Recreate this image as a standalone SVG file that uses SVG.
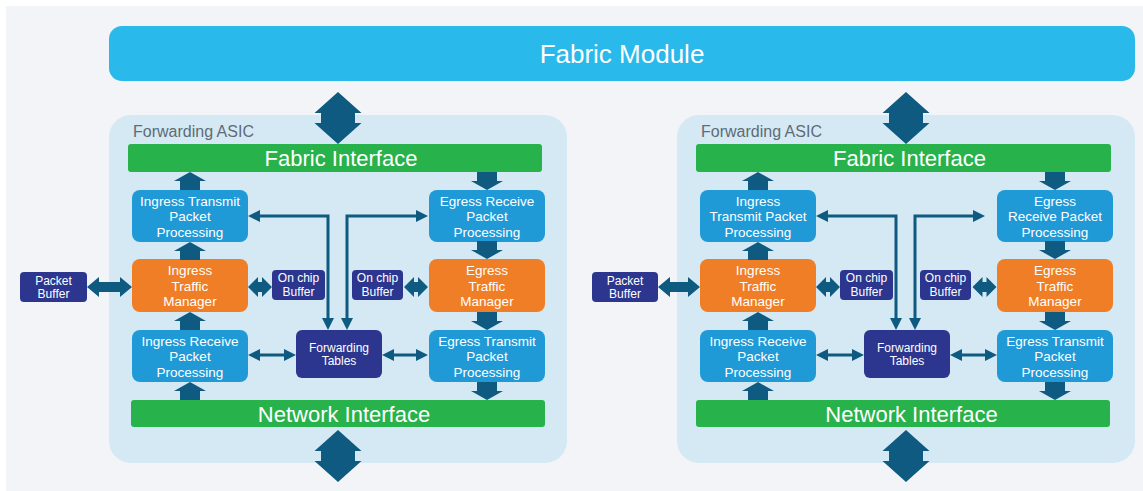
<svg xmlns="http://www.w3.org/2000/svg" xmlns:xlink="http://www.w3.org/1999/xlink" width="1143" height="491" viewBox="0 0 1143 491">
<style>
.bg{fill:#f3f4f7}
.fm{fill:#29b9ea}
.asic{fill:#d4e9f3}
.green{fill:#28b24b}
.blue{fill:#1f9ad7}
.orange{fill:#f07e26}
.navy{fill:#2c368f}
.dark{fill:#0e5a80}
.ln{stroke:#0e5a80;stroke-width:3;fill:none;marker-start:url(#ah);marker-end:url(#ah)}
text{font-family:"Liberation Sans",Arial,sans-serif;fill:#ffffff;text-anchor:middle}
.t{font-size:13.5px}
.s{font-size:12px}
.big{font-size:22px}
.title{font-size:26px}
.lab{font-size:16px;fill:#5f6b76;text-anchor:start}
</style>
<defs>
<marker id="ah" viewBox="0 0 12 12" refX="8" refY="6" markerWidth="12" markerHeight="12" markerUnits="userSpaceOnUse" orient="auto-start-reverse">
<path d="M0 0 L12 6 L0 12 Z" fill="#0e5a80"/>
</marker>
<path id="ua" d="M0 0 L16 9 L10 9 L10 18 L-10 18 L-10 9 L-16 9 Z"/>
<path id="bigA" d="M0 0 L23.5 21 L17 21 L17 31 L23.5 31 L0 52 L-23.5 31 L-17 31 L-17 21 L-23.5 21 Z"/>
<path id="hdS" d="M0 0 L10 -10 L10 -5 L14 -5 L14 -10 L24 0 L14 10 L14 5 L10 5 L10 10 Z"/>
</defs>
<rect class="bg" x="6" y="6" width="1137" height="485"/>
<g id="fabric-module">
<rect class="fm" x="109" y="26" width="1026" height="55" rx="13"/>
<text class="title" x="622" y="63">Fabric Module</text>
</g>
<g id="asic-left">
<rect class="asic" x="109" y="115" width="458" height="348" rx="22"/>
<text class="lab" x="133" y="137">Forwarding ASIC</text>
</g>
<g id="asic-right">
<rect class="asic" x="677" y="115" width="458" height="348" rx="22"/>
<text class="lab" x="701" y="137">Forwarding ASIC</text>
</g>
<g id="L-fabric-interface"><rect class="green" x="128" y="144" width="414" height="28" rx="3"/><text class="big" x="341" y="166">Fabric Interface</text></g>
<g id="L-network-interface"><rect class="green" x="131" y="400" width="414" height="27" rx="3"/><text class="big" x="344" y="421.5">Network Interface</text></g>
<g id="L-itpp"><rect class="blue" x="132" y="190" width="116" height="52" rx="8"/><text class="t" x="190" y="205.5">Ingress Transmit</text><text class="t" x="190" y="221">Packet</text><text class="t" x="190" y="236.5">Processing</text></g>
<g id="L-itm"><rect class="orange" x="132" y="259" width="116" height="53" rx="8"/><text class="t" x="190" y="275">Ingress</text><text class="t" x="190" y="290.5">Traffic</text><text class="t" x="190" y="306">Manager</text></g>
<g id="L-irpp"><rect class="blue" x="132" y="330" width="116" height="52" rx="8"/><text class="t" x="190" y="345.5">Ingress Receive</text><text class="t" x="190" y="361">Packet</text><text class="t" x="190" y="376.5">Processing</text></g>
<g id="L-erpp"><rect class="blue" x="429" y="190" width="116" height="52" rx="8"/><text class="t" x="487" y="205.5">Egress Receive</text><text class="t" x="487" y="221">Packet</text><text class="t" x="487" y="236.5">Processing</text></g>
<g id="L-etm"><rect class="orange" x="429" y="259" width="116" height="53" rx="8"/><text class="t" x="487" y="275">Egress</text><text class="t" x="487" y="290.5">Traffic</text><text class="t" x="487" y="306">Manager</text></g>
<g id="L-etpp"><rect class="blue" x="429" y="330" width="116" height="52" rx="8"/><text class="t" x="487" y="345.5">Egress Transmit</text><text class="t" x="487" y="361">Packet</text><text class="t" x="487" y="376.5">Processing</text></g>
<g id="L-packet-buffer"><rect class="navy" x="20" y="272" width="67" height="30" rx="4"/><text class="s" x="53.5" y="284.5">Packet</text><text class="s" x="53.5" y="297.5">Buffer</text></g>
<g id="L-ocb1"><rect class="navy" x="272" y="270" width="53" height="30" rx="4"/><text class="s" x="298.5" y="282">On chip</text><text class="s" x="298.5" y="295.5">Buffer</text></g>
<g id="L-ocb2"><rect class="navy" x="352" y="270" width="51" height="30" rx="4"/><text class="s" x="377.5" y="282">On chip</text><text class="s" x="377.5" y="295.5">Buffer</text></g>
<g id="L-ft"><rect class="navy" x="296" y="330" width="86" height="48" rx="6"/><text class="s" x="339" y="351.5">Forwarding</text><text class="s" x="339" y="365">Tables</text></g>
<g id="R-fabric-interface"><rect class="green" x="696" y="144" width="415" height="28" rx="3"/><text class="big" x="909.5" y="166">Fabric Interface</text></g>
<g id="R-network-interface"><rect class="green" x="696" y="400" width="414" height="27" rx="3"/><text class="big" x="911.5" y="421.5">Network Interface</text></g>
<g id="R-itpp"><rect class="blue" x="700" y="190" width="116" height="52" rx="8"/><text class="t" x="758" y="205.5">Ingress</text><text class="t" x="758" y="221">Transmit Packet</text><text class="t" x="758" y="236.5">Processing</text></g>
<g id="R-itm"><rect class="orange" x="700" y="259" width="116" height="53" rx="8"/><text class="t" x="758" y="275">Ingress</text><text class="t" x="758" y="290.5">Traffic</text><text class="t" x="758" y="306">Manager</text></g>
<g id="R-irpp"><rect class="blue" x="700" y="330" width="116" height="52" rx="8"/><text class="t" x="758" y="345.5">Ingress Receive</text><text class="t" x="758" y="361">Packet</text><text class="t" x="758" y="376.5">Processing</text></g>
<g id="R-erpp"><rect class="blue" x="997" y="190" width="116" height="52" rx="8"/><text class="t" x="1055" y="205.5">Egress</text><text class="t" x="1055" y="221">Receive Packet</text><text class="t" x="1055" y="236.5">Processing</text></g>
<g id="R-etm"><rect class="orange" x="997" y="259" width="116" height="53" rx="8"/><text class="t" x="1055" y="275">Egress</text><text class="t" x="1055" y="290.5">Traffic</text><text class="t" x="1055" y="306">Manager</text></g>
<g id="R-etpp"><rect class="blue" x="997" y="330" width="116" height="52" rx="8"/><text class="t" x="1055" y="345.5">Egress Transmit</text><text class="t" x="1055" y="361">Packet</text><text class="t" x="1055" y="376.5">Processing</text></g>
<g id="R-packet-buffer"><rect class="navy" x="592" y="272" width="66" height="30" rx="4"/><text class="s" x="625" y="284.5">Packet</text><text class="s" x="625" y="297.5">Buffer</text></g>
<g id="R-ocb1"><rect class="navy" x="840" y="270" width="53" height="30" rx="4"/><text class="s" x="866.5" y="282">On chip</text><text class="s" x="866.5" y="295.5">Buffer</text></g>
<g id="R-ocb2"><rect class="navy" x="920" y="270" width="51" height="30" rx="4"/><text class="s" x="945.5" y="282">On chip</text><text class="s" x="945.5" y="295.5">Buffer</text></g>
<g id="R-ft"><rect class="navy" x="864" y="330" width="86" height="48" rx="6"/><text class="s" x="907" y="351.5">Forwarding</text><text class="s" x="907" y="365">Tables</text></g>
<g id="connectors">
<g class="dark">
<use href="#bigA" x="338" y="92"/>
<use href="#bigA" x="338" y="430"/>
<use href="#bigA" x="906" y="92"/>
<use href="#bigA" x="906" y="430"/>
<use href="#ua" x="190" y="172"/>
<use href="#ua" x="190" y="242"/>
<use href="#ua" x="190" y="312"/>
<use href="#ua" x="190" y="382"/>
<use href="#ua" transform="translate(487,190) scale(1,-1)"/>
<use href="#ua" transform="translate(487,259) scale(1,-1)"/>
<use href="#ua" transform="translate(487,330) scale(1,-1)"/>
<use href="#ua" transform="translate(487,400) scale(1,-1)"/>
<use href="#ua" x="758" y="172"/>
<use href="#ua" x="758" y="242"/>
<use href="#ua" x="758" y="312"/>
<use href="#ua" x="758" y="382"/>
<use href="#ua" transform="translate(1055,190) scale(1,-1)"/>
<use href="#ua" transform="translate(1055,259) scale(1,-1)"/>
<use href="#ua" transform="translate(1055,330) scale(1,-1)"/>
<use href="#ua" transform="translate(1055,400) scale(1,-1)"/>
<path d="M87 287 L99 277 L99 282 L120 282 L120 277 L132 287 L120 297 L120 292 L99 292 L99 297 Z"/>
<path d="M658 287 L670 277 L670 282 L688 282 L688 277 L700 287 L688 297 L688 292 L670 292 L670 297 Z"/>
<use href="#hdS" x="248" y="287"/>
<use href="#hdS" x="404" y="287"/>
<use href="#hdS" x="816" y="287"/>
<use href="#hdS" x="972.5" y="287"/>
</g>
<path class="ln" d="M252 216 H328 V326"/>
<path class="ln" d="M347 326 V216 H424"/>
<path class="ln" d="M252 355 H292"/>
<path class="ln" d="M386 355 H424"/>
<path class="ln" d="M820 216 H896 V326"/>
<path class="ln" d="M915 326 V216 H981"/>
<path class="ln" d="M820 355 H860"/>
<path class="ln" d="M954 355 H993"/>
</g>
</svg>
